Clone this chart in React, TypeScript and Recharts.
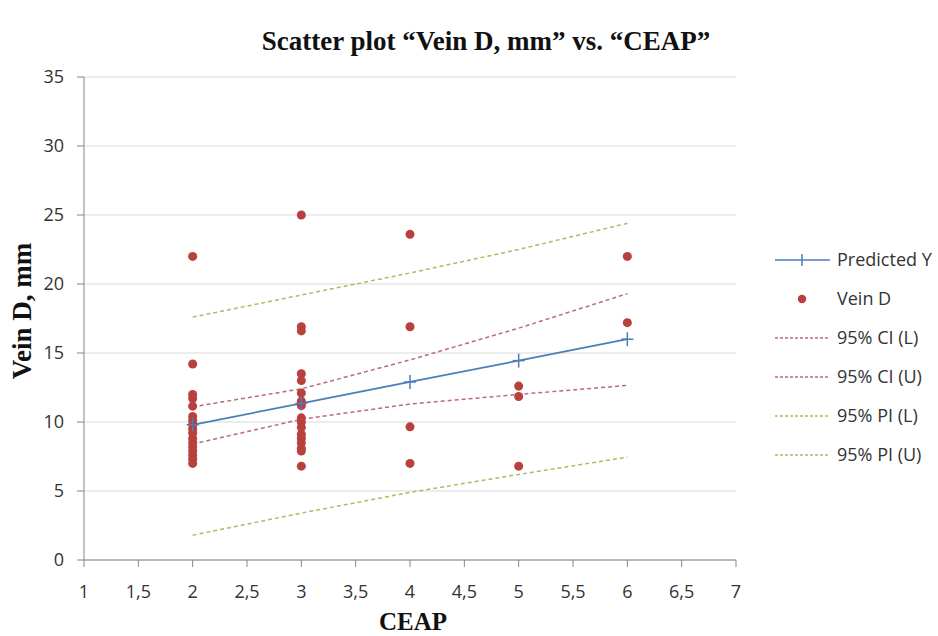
import { ComposedChart, Line, Scatter, XAxis, YAxis, CartesianGrid } from "recharts";

const ceapLevels = [2, 3, 4, 5, 6];
const predictedY = [9.8, 11.35, 12.9, 14.45, 16.0];
const ciLower = [8.4, 10.2, 11.3, 12.0, 12.65];
const ciUpper = [11.1, 12.4, 14.5, 16.8, 19.3];
const piLower = [1.8, 3.4, 4.9, 6.2, 7.45];
const piUpper = [17.6, 19.2, 20.8, 22.5, 24.4];

const veinCeap = [
  2, 2, 2, 2, 2, 2, 2, 2, 2, 2, 2, 2, 2, 2, 2, 2, 2,
  3, 3, 3, 3, 3, 3, 3, 3, 3, 3, 3, 3, 3, 3, 3, 3, 3,
  4, 4, 4, 4,
  5, 5, 5,
  6, 6,
];
const veinD = [
  22, 14.2, 12.0, 11.7, 11.15, 10.4, 10.1, 9.8, 9.5, 9.2, 8.8, 8.5, 8.2, 7.9, 7.6, 7.3, 7.0,
  25, 16.9, 16.6, 13.5, 13.0, 12.1, 11.5, 11.2, 10.3, 10.0, 9.6, 9.1, 8.8, 8.5, 8.1, 7.9, 6.8,
  23.6, 16.9, 9.65, 7.0,
  12.6, 11.85, 6.8,
  22.0, 17.2,
];

const xTicks = [1, 1.5, 2, 2.5, 3, 3.5, 4, 4.5, 5, 5.5, 6, 6.5, 7];
const yTicks = [0, 5, 10, 15, 20, 25, 30, 35];

const BLUE = "#4A7EBB";
const RED = "#B8403D";
const PINK = "#BE6A78";
const GREEN = "#A5C05E";
const SERIF = "'Liberation Serif', 'Times New Roman', serif";
const SANS = "'Open Sans', sans-serif";

const toSeries = (vals: number[]) => ceapLevels.map((x, i) => ({ x, y: vals[i] }));
const veinData = veinD.map((y, i) => ({ x: veinCeap[i], y }));

const Cross = (props: any) => {
  const { cx, cy } = props;
  if (cx == null || cy == null) return null;
  return (
    <g>
      <line x1={cx - 6} y1={cy} x2={cx + 6} y2={cy} stroke={BLUE} strokeWidth={1.5} />
      <line x1={cx} y1={cy - 7} x2={cx} y2={cy + 7} stroke={BLUE} strokeWidth={1.5} />
    </g>
  );
};

const legendItems = [
  { name: "Predicted Y", kind: "cross", color: BLUE },
  { name: "Vein D", kind: "dot", color: RED },
  { name: "95% CI (L)", kind: "dash", color: PINK },
  { name: "95% CI (U)", kind: "dash", color: PINK },
  { name: "95% PI (L)", kind: "dash", color: GREEN },
  { name: "95% PI (U)", kind: "dash", color: GREEN },
];

const Overlay = () => (
  <svg width={938} height={636} style={{ position: "absolute", left: 0, top: 0, pointerEvents: "none" }}>
    <text x={486} y={50} textAnchor="middle" fontFamily={SERIF} fontWeight="bold" fontSize={27} fill="#111">
      Scatter plot “Vein D, mm” vs. “CEAP”
    </text>
    <text
      x={0}
      y={0}
      transform="translate(31 311) rotate(-90)"
      textAnchor="middle"
      fontFamily={SERIF}
      fontWeight="bold"
      fontSize={27}
      fill="#111"
    >
      Vein D, mm
    </text>
    <text x={413} y={630} textAnchor="middle" fontFamily={SERIF} fontWeight="bold" fontSize={25} fill="#111">
      CEAP
    </text>
    {legendItems.map((it, i) => {
      const y = 260 + i * 39;
      return (
        <g key={it.name}>
          {it.kind === "cross" && (
            <g>
              <line x1={775} y1={y} x2={830} y2={y} stroke={BLUE} strokeWidth={1.5} />
              <line x1={802} y1={y - 6} x2={802} y2={y + 6} stroke={BLUE} strokeWidth={1.5} />
            </g>
          )}
          {it.kind === "dot" && <circle cx={802} cy={y} r={4.2} fill={RED} />}
          {it.kind === "dash" && (
            <line x1={775} y1={y} x2={830} y2={y} stroke={it.color} strokeWidth={1.5} strokeDasharray="3 2" />
          )}
          <text x={837} y={y} dy="0.35em" fontSize={18} fill="#333" fontFamily={SANS}>
            {it.name}
          </text>
        </g>
      );
    })}
  </svg>
);

export default function App() {
  return (
    <div style={{ position: "absolute", left: 0, top: 0, width: 938, height: 636, background: "#fff" }}>
      <ComposedChart
        width={938}
        height={636}
        margin={{ top: 77, right: 202, bottom: 46, left: 0 }}
        style={{ position: "absolute", left: 0, top: 0 }}
      >
        <CartesianGrid vertical={false} stroke="#D9D9D9" />
        <XAxis
          type="number"
          dataKey="x"
          domain={[1, 7]}
          ticks={xTicks}
          interval={0}
          tickFormatter={(v: number) => String(v).replace(".", ",")}
          stroke="#868686"
          tickSize={7}
          tickMargin={18}
          height={30}
          tick={{ fill: "#333", fontSize: 18, fontFamily: SANS }}
          allowDuplicatedCategory={false}
        />
        <YAxis
          type="number"
          dataKey="y"
          domain={[0, 35]}
          ticks={yTicks}
          interval={0}
          width={84}
          stroke="#868686"
          tickSize={7}
          tickMargin={13}
          tick={{ fill: "#333", fontSize: 18, fontFamily: SANS }}
        />
        <Line
          data={toSeries(piLower)}
          dataKey="y"
          name="95% PI (L)"
          stroke={GREEN}
          strokeWidth={1.5}
          strokeDasharray="4 3"
          dot={false}
          isAnimationActive={false}
        />
        <Line
          data={toSeries(piUpper)}
          dataKey="y"
          name="95% PI (U)"
          stroke={GREEN}
          strokeWidth={1.5}
          strokeDasharray="4 3"
          dot={false}
          isAnimationActive={false}
        />
        <Line
          data={toSeries(ciLower)}
          dataKey="y"
          name="95% CI (L)"
          stroke={PINK}
          strokeWidth={1.5}
          strokeDasharray="4 3"
          dot={false}
          isAnimationActive={false}
        />
        <Line
          data={toSeries(ciUpper)}
          dataKey="y"
          name="95% CI (U)"
          stroke={PINK}
          strokeWidth={1.5}
          strokeDasharray="4 3"
          dot={false}
          isAnimationActive={false}
        />
        <Scatter data={veinData} dataKey="y" name="Vein D" fill={RED} shape="circle" isAnimationActive={false} />
        <Line
          data={toSeries(predictedY)}
          dataKey="y"
          name="Predicted Y"
          stroke={BLUE}
          strokeWidth={1.8}
          dot={<Cross />}
          isAnimationActive={false}
        />
      </ComposedChart>
      <Overlay />
    </div>
  );
}
